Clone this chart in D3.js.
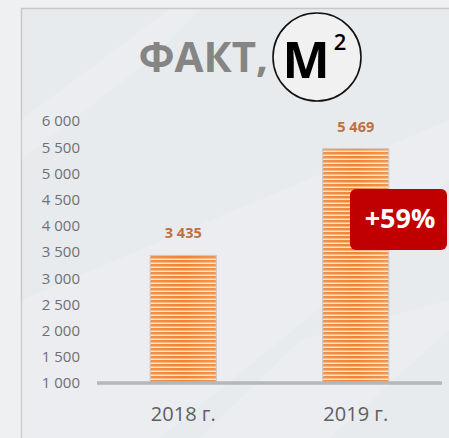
<!DOCTYPE html>
<html>
<head>
<meta charset="utf-8">
<script src="https://cdn.jsdelivr.net/npm/d3@7"></script>
<style>
  body { margin: 0; background: #eef0f2; }
  svg { display: block; font-family: 'Open Sans', sans-serif; }
</style>
</head>
<body>
<div id="chart"></div>
<script>
var width = 449
var height = 438

// data
var categories = ['2018 г.', '2019 г.']
var values = [3435, 5469]
var valueLabels = ['3 435', '5 469']
var yTicks = [1000, 1500, 2000, 2500, 3000, 3500, 4000, 4500, 5000, 5500, 6000]
var growthLabel = '+59%'

var svg = d3
  .select('#chart')
  .append('svg')
  .attr('width', width)
  .attr('height', height)

var defs = svg.append('defs')

// striped fill for bars
var pat = defs
  .append('pattern')
  .attr('id', 'stripes')
  .attr('patternUnits', 'userSpaceOnUse')
  .attr('width', 8)
  .attr('height', 4)
pat.append('rect').attr('width', 8).attr('height', 4).attr('fill', '#ee8434')
pat.append('rect').attr('y', 2).attr('width', 8).attr('height', 1).attr('fill', '#f8b27a')
pat.append('rect').attr('y', 3).attr('width', 8).attr('height', 1).attr('fill', '#fde2ca')

var shade = defs
  .append('linearGradient')
  .attr('id', 'shade')
  .attr('x1', 0).attr('x2', 1).attr('y1', 0).attr('y2', 0)
shade.append('stop').attr('offset', 0).attr('stop-color', '#fff').attr('stop-opacity', 0.12)
shade.append('stop').attr('offset', 0.5).attr('stop-color', '#fff').attr('stop-opacity', 0)
shade.append('stop').attr('offset', 1).attr('stop-color', '#fff').attr('stop-opacity', 0.15)

// background
svg.append('rect').attr('width', width).attr('height', height).attr('fill', '#eef0f2')
svg
  .append('rect')
  .attr('x', 21.5)
  .attr('y', 8.5)
  .attr('width', width)
  .attr('height', height)
  .attr('fill', '#e8ebee')
  .attr('stroke', '#c6c8ca')
  .attr('stroke-width', 1.5)

// faint diagonal light bands
var bands = [
  [[21, 300], [21, 438], [160, 438], [330, 300], [449, 180], [449, 120]],
  [[200, 438], [300, 340], [449, 300], [449, 330], [330, 438]],
  [[21, 120], [21, 160], [150, 60], [200, 9], [170, 9]]
]
svg
  .selectAll('.band')
  .data(bands)
  .enter()
  .append('polygon')
  .attr('class', 'band')
  .attr('points', d => d.join(' '))
  .attr('fill', '#ffffff')
  .attr('opacity', 0.13)

// scales
var y = d3.scaleLinear().domain([1000, 6000]).range([383, 121])
var x = d3.scalePoint().domain(categories).range([97, 442]).padding(0.5)
var barWidth = 66

// y axis labels
var yAxis = svg
  .append('g')
  .attr('transform', 'translate(80,0)')
  .call(
    d3
      .axisLeft(y)
      .tickValues(yTicks)
      .tickSize(0)
      .tickPadding(0)
      .tickFormat(d => d3.format(',')(d).replace(',', ' '))
  )
yAxis.select('.domain').remove()
yAxis
  .selectAll('text')
  .attr('font-family', 'Open Sans')
  .attr('font-size', 15)
  .attr('fill', '#707070')

// bars
svg
  .selectAll('.bar')
  .data(values)
  .enter()
  .append('rect')
  .attr('class', 'bar')
  .attr('x', (d, i) => x(categories[i]) - barWidth / 2)
  .attr('y', d => y(d))
  .attr('width', barWidth)
  .attr('height', d => y(1000) - y(d))
  .attr('fill', 'url(#stripes)')
  .attr('stroke', '#c9c2bc')
  .attr('stroke-width', 1)

svg
  .selectAll('.bar-shade')
  .data(values)
  .enter()
  .append('rect')
  .attr('x', (d, i) => x(categories[i]) - barWidth / 2)
  .attr('y', d => y(d))
  .attr('width', barWidth)
  .attr('height', d => y(1000) - y(d))
  .attr('fill', 'url(#shade)')

// baseline
svg
  .append('line')
  .attr('x1', 97)
  .attr('x2', 442)
  .attr('y1', y(1000))
  .attr('y2', y(1000))
  .attr('stroke', '#b5b7b9')
  .attr('stroke-width', 3.5)

// value labels
svg
  .selectAll('.val')
  .data(values)
  .enter()
  .append('text')
  .attr('x', (d, i) => x(categories[i]))
  .attr('y', d => y(d) - 17)
  .attr('text-anchor', 'middle')
  .attr('font-size', 14.5)
  .attr('font-weight', 'bold')
  .attr('fill', '#c2703a')
  .text((d, i) => valueLabels[i])

// category labels
svg
  .selectAll('.cat')
  .data(categories)
  .enter()
  .append('text')
  .attr('x', d => x(d))
  .attr('y', 421)
  .attr('text-anchor', 'middle')
  .attr('font-size', 20)
  .attr('fill', '#5f5f5f')
  .text(d => d)

// growth badge
svg
  .append('rect')
  .attr('x', 350)
  .attr('y', 189)
  .attr('width', 97)
  .attr('height', 61)
  .attr('rx', 6)
  .attr('fill', '#c00000')
svg
  .append('text')
  .attr('x', 400)
  .attr('y', 228)
  .attr('text-anchor', 'middle')
  .attr('font-size', 27)
  .attr('font-weight', 'bold')
  .attr('fill', '#ffffff')
  .text(growthLabel)

// title
svg
  .append('text')
  .attr('x', 268)
  .attr('y', 72)
  .attr('text-anchor', 'end')
  .attr('font-size', 42)
  .attr('font-weight', 'bold')
  .attr('fill', '#858585')
  .text('ФАКТ,')

svg
  .append('circle')
  .attr('cx', 317)
  .attr('cy', 57)
  .attr('r', 44)
  .attr('fill', '#f1f1f1')
  .attr('stroke', '#111')
  .attr('stroke-width', 1.6)

svg
  .append('text')
  .attr('x', 306)
  .attr('y', 78)
  .attr('text-anchor', 'middle')
  .attr('font-size', 50)
  .attr('font-weight', 'bold')
  .attr('fill', '#000')
  .text('М')

svg
  .append('text')
  .attr('x', 340)
  .attr('y', 50)
  .attr('text-anchor', 'middle')
  .attr('font-size', 22)
  .attr('font-weight', 600)
  .attr('fill', '#000')
  .text('2')
</script>
</body>
</html>
